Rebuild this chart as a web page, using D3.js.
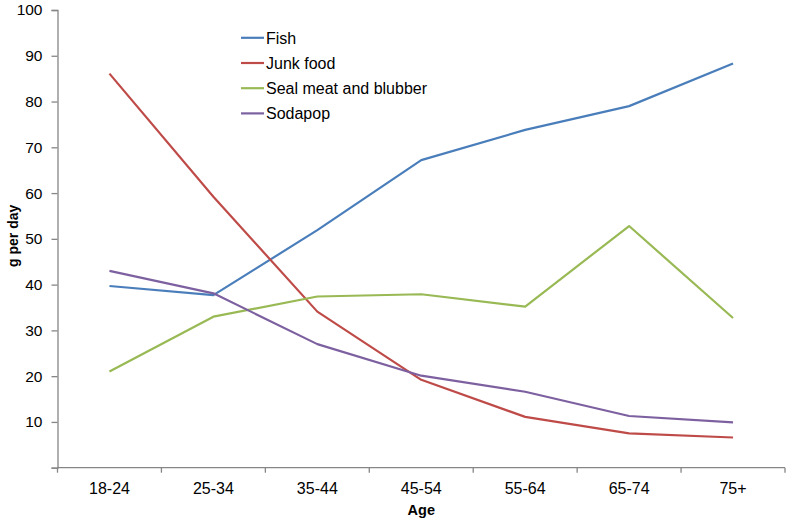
<!DOCTYPE html>
<html><head><meta charset="utf-8">
<script src="https://cdn.jsdelivr.net/npm/d3@7"></script>
<style>body{margin:0;background:#fff;} svg{display:block;font-family:"Liberation Sans",Arial,sans-serif;}</style>
</head><body>
<svg id="c" width="786" height="520"></svg>
<script>
const categories = ["18-24","25-34","35-44","45-54","55-64","65-74","75+"];
const fish = [39.7, 37.7, 51.9, 67.2, 73.8, 79.0, 88.3];
const junkFood = [86.1, 59.2, 34.1, 19.2, 11.1, 7.5, 6.6];
const sealMeat = [21.0, 33.0, 37.4, 37.9, 35.2, 52.8, 32.7];
const sodapop = [43.0, 38.1, 27.0, 20.1, 16.6, 11.3, 9.9];
const seriesNames = ["Fish","Junk food","Seal meat and blubber","Sodapop"];
const yTicks = [10,20,30,40,50,60,70,80,90,100];

const series = [
  {name: seriesNames[0], values: fish, color: "#4A7EBB"},
  {name: seriesNames[1], values: junkFood, color: "#BE4B48"},
  {name: seriesNames[2], values: sealMeat, color: "#98B954"},
  {name: seriesNames[3], values: sodapop, color: "#7D60A0"}
];

const svg = d3.select("#c");
const mLeft = 57.5, mRight = 785, mTop = 10, mBottom = 467.7;
const x = d3.scaleBand().domain(categories).range([mLeft, mRight]);
const y = d3.scaleLinear().domain([0, 100]).range([mBottom, mTop]);
const axisColor = "#868686";

// y axis
const ya = svg.append("g").attr("transform", `translate(${mLeft},0)`)
  .call(d3.axisLeft(y).tickValues([0].concat(yTicks)).tickSize(6).tickFormat(d => d === 0 ? "" : d));
ya.select(".domain").attr("stroke", axisColor).attr("stroke-width", 1.3);
ya.selectAll(".tick line").attr("stroke", axisColor).attr("stroke-width", 1.3);
ya.selectAll(".tick text").attr("fill", "#000").attr("font-size", 15.5).attr("x", -15)
  .attr("font-family", "Liberation Sans, Arial, sans-serif");

// x axis with ticks at band boundaries
const xa = svg.append("g").attr("transform", `translate(0,${mBottom})`);
xa.append("line").attr("x1", mLeft).attr("x2", mRight).attr("y1", 0).attr("y2", 0)
  .attr("stroke", axisColor).attr("stroke-width", 1.3);
const bounds = categories.map(c => x(c)).concat([x(categories[categories.length-1]) + x.bandwidth()]);
xa.selectAll("line.t").data(bounds).join("line").attr("class","t")
  .attr("x1", d => d).attr("x2", d => d).attr("y1", 0).attr("y2", 5)
  .attr("stroke", axisColor).attr("stroke-width", 1.3);
xa.selectAll("text").data(categories).join("text")
  .attr("x", d => x(d) + x.bandwidth()/2).attr("y", 26)
  .attr("text-anchor", "middle").attr("font-size", 16).attr("fill", "#000").text(d => d);

// axis titles
svg.append("text").attr("x", (mLeft+mRight)/2).attr("y", 515).attr("text-anchor","middle")
  .attr("font-size", 14.5).attr("font-weight","bold").text("Age");
svg.append("text").attr("transform", `translate(18,${(mTop+mBottom)/2 - 3}) rotate(-90)`)
  .attr("text-anchor","middle").attr("font-size", 14).attr("font-weight","bold").text("g per day");

// lines
const line = d3.line().x((d,i) => x(categories[i]) + x.bandwidth()/2).y(d => y(d));
svg.selectAll("path.s").data(series).join("path").attr("class","s")
  .attr("d", d => line(d.values)).attr("fill","none")
  .attr("stroke", d => d.color).attr("stroke-width", 2.2).attr("stroke-linejoin","round");

// legend
const lg = svg.append("g");
series.forEach((s, i) => {
  const yy = 37.8 + i*25.2;
  lg.append("line").attr("x1", 241).attr("x2", 264).attr("y1", yy).attr("y2", yy)
    .attr("stroke", s.color).attr("stroke-width", 2.2);
  lg.append("text").attr("x", 266).attr("y", yy + 5.8).attr("font-size", 16).attr("fill","#000").text(s.name);
});
</script>
</body></html>
